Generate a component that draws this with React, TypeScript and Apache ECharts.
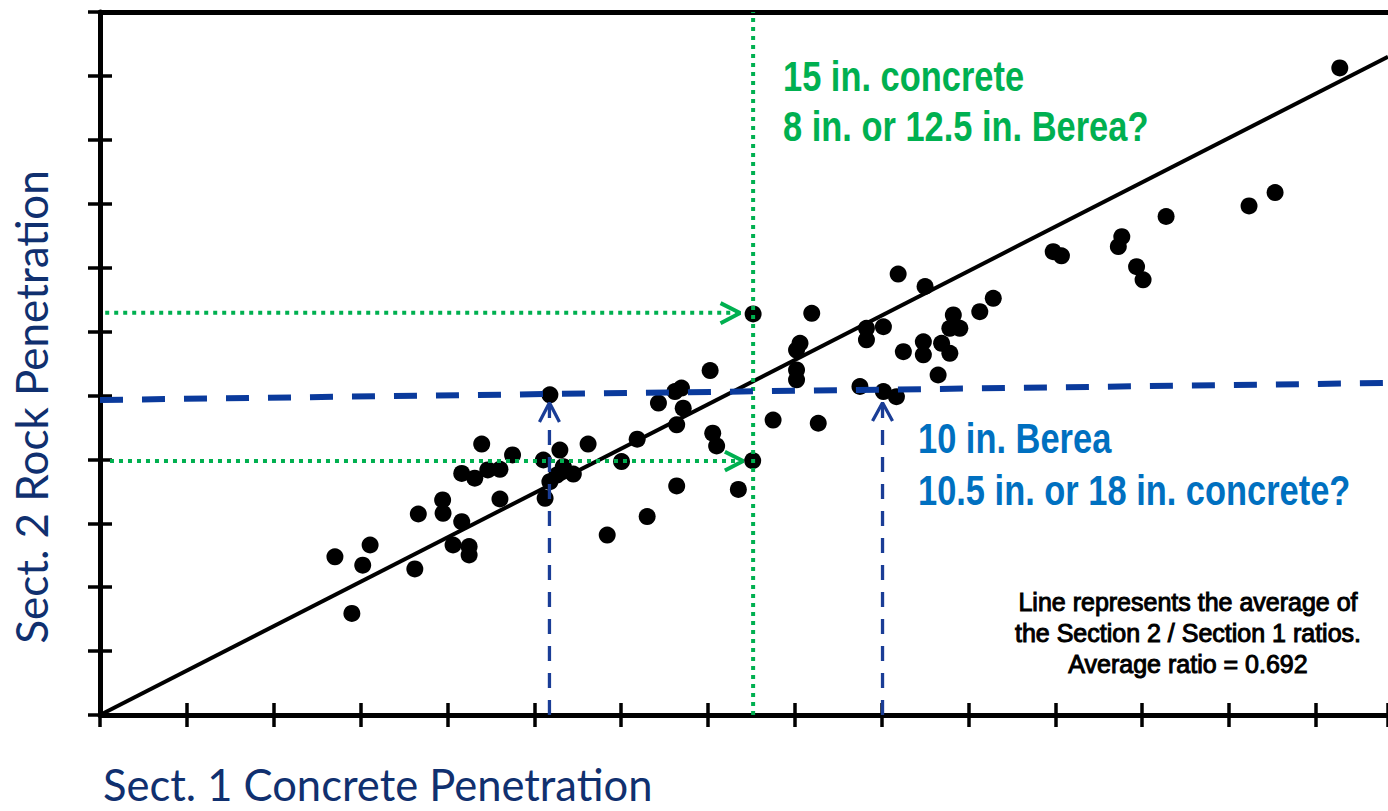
import React, { useEffect, useRef } from "react";
import * as echarts from "echarts";

// Axis extents (inches)
const X_MAX = 29.66;
const Y_MAX = 22;
const TICK_STEP = 2;

// Sect. 1 concrete penetration (in.)
const sect1Concrete = [
  5.41, 6.05, 6.22, 5.8, 7.25, 7.33, 7.89, 7.9, 8.13, 8.33,
  8.5, 8.5, 8.33, 8.63, 8.79, 8.93, 9.21, 9.21, 9.5, 10.21,
  10.25, 10.36, 10.36, 10.59, 10.67, 10.9, 10.52, 11.24, 11.68, 12.01,
  12.37, 12.6, 12.86, 13.24, 13.39, 13.43, 13.28, 13.28, 14.05, 14.11,
  14.2, 14.7, 15.03, 15.04, 15.5, 16.54, 16.39, 16.12, 16.04, 16.04,
  16.04, 17.5, 17.65, 17.65, 18.04, 18.04, 18.34, 18.38, 18.5, 19.0,
  18.96, 18.96, 19.38, 19.3, 19.57, 19.65, 19.8, 19.57, 20.26, 20.57,
  21.95, 22.14, 23.53, 23.45, 23.87, 24.02, 24.55, 26.46, 27.06, 28.55,
];

// Sect. 2 rock penetration (in.)
const sect2Rock = [
  4.95, 4.69, 5.32, 3.18, 4.57, 6.29, 6.73, 6.31, 5.32, 6.05,
  5.27, 5.01, 7.56, 7.41, 8.48, 7.67, 7.69, 6.76, 8.14, 7.98,
  6.78, 7.3, 10.02, 8.29, 7.77, 7.54, 7.51, 8.48, 5.63, 7.93,
  8.63, 6.21, 9.76, 10.12, 10.23, 9.6, 9.08, 7.17, 10.78, 8.82,
  8.42, 7.06, 7.96, 12.55, 9.23, 9.13, 12.57, 11.63, 11.42, 10.8,
  10.49, 10.28, 12.1, 11.74, 12.15, 10.12, 9.96, 13.8, 11.37, 13.41,
  11.68, 11.27, 11.63, 10.64, 12.1, 12.52, 12.1, 11.32, 12.62, 13.04,
  14.5, 14.37, 14.97, 14.66, 14.03, 13.62, 15.6, 15.93, 16.35, 20.25,
];

// Average-ratio line (ratio 0.692)
const fitLine = [[0, 0], [29.66, 20.6]];

// Blue annotation (10 in. Berea)
const blueHorizontal = [[0, 9.86], [29.66, 10.39]];
const blueVertLeft = [[10.35, 0], [10.35, 9.75]];
const blueVertRight = [[18.02, 0], [18.02, 9.75]];
const blueArrowLeft = [[10.12, 9.17], [10.35, 9.77], [10.58, 9.17]];
const blueArrowRight = [[17.79, 9.2], [18.02, 9.77], [18.25, 9.2]];

// Green annotation (15 in. concrete)
const greenVertical = [[15.04, 0], [15.04, 22]];
const greenHorizTop = [[0.12, 12.59], [14.7, 12.59]];
const greenHorizBottom = [[0.23, 7.95], [14.78, 7.95]];
const greenArrowTop = [[14.29, 12.89], [14.74, 12.58], [14.29, 12.26]];
const greenArrowBottom = [[14.39, 8.24], [14.81, 7.95], [14.39, 7.65]];

const GREEN = "#00b050";
const BLUE_DARK = "#0a3a9c";
const BLUE_MID = "#1a3d96";
const BLUE_TEXT = "#0070c0";
const NAVY = "#10306f";

const annoFont = "'Liberation Sans', Arial, sans-serif";
const NARROW = 0.82;

function lineSeries(data: number[][], color: string, width: number, type: any) {
  return {
    type: "line",
    data,
    symbol: "none",
    silent: true,
    z: 5,
    lineStyle: { color, width, type, cap: "butt" },
  };
}

function annoText(text: string, x: number, y: number, fill: string) {
  return {
    type: "text",
    x,
    y,
    scaleX: NARROW,
    style: {
      text,
      align: "left",
      verticalAlign: "middle",
      fontSize: 42,
      fontWeight: "bold",
      fontFamily: annoFont,
      fill,
    },
  };
}

function noteText(text: string, y: number) {
  return {
    type: "text",
    x: 1188,
    y,
    style: {
      text,
      align: "center",
      verticalAlign: "middle",
      fontSize: 25,
      fontFamily: "'Liberation Sans', Arial, sans-serif",
      fill: "#000",
      stroke: "#000",
      lineWidth: 1,
    },
  };
}

export default function App() {
  const ref = useRef<HTMLDivElement>(null);
  useEffect(() => {
    const chart = echarts.init(ref.current!, null, { renderer: "svg" });
    const gridRect = { left: 100, right: 0, top: 12, bottom: 96 };
    const baseAxis = {
      type: "value",
      min: 0,
      interval: TICK_STEP,
      splitLine: { show: false },
      axisLabel: { show: false },
    };
    const tickStyle = { color: "#000", width: 3.5 };
    const points = sect1Concrete.map((x, i) => [x, sect2Rock[i]]);
    chart.setOption({
      animation: false,
      backgroundColor: "#fff",
      grid: [gridRect, gridRect],
      xAxis: [
        {
          ...baseAxis,
          gridIndex: 0,
          max: X_MAX,
          position: "bottom",
          axisLine: { show: true, onZero: false, lineStyle: { color: "#000", width: 5 } },
          axisTick: { show: true, length: 12, lineStyle: tickStyle },
        },
        {
          ...baseAxis,
          gridIndex: 0,
          max: X_MAX,
          position: "top",
          axisLine: { show: true, onZero: false, lineStyle: { color: "#000", width: 5 } },
          axisTick: { show: false },
        },
        {
          ...baseAxis,
          gridIndex: 1,
          max: X_MAX,
          position: "bottom",
          axisLine: { show: false },
          axisTick: { show: true, inside: true, length: 12, lineStyle: tickStyle },
        },
      ],
      yAxis: [
        {
          ...baseAxis,
          gridIndex: 0,
          max: Y_MAX,
          position: "left",
          axisLine: { show: true, onZero: false, lineStyle: { color: "#000", width: 5 } },
          axisTick: { show: true, length: 12, lineStyle: tickStyle },
        },
        {
          ...baseAxis,
          gridIndex: 1,
          max: Y_MAX,
          position: "left",
          axisLine: { show: false },
          axisTick: { show: true, inside: true, length: 12, lineStyle: tickStyle },
        },
      ],
      series: [
        {
          type: "line",
          data: fitLine,
          symbol: "none",
          silent: true,
          z: 2,
          lineStyle: { color: "#000", width: 4 },
        },
        {
          type: "scatter",
          data: points,
          symbol: "circle",
          symbolSize: 17,
          silent: true,
          z: 3,
          itemStyle: { color: "#000", opacity: 1 },
        },
        lineSeries(greenVertical, GREEN, 4, [4, 5]),
        lineSeries(greenHorizTop, GREEN, 4, [4, 5]),
        lineSeries(greenHorizBottom, GREEN, 4, [4, 5]),
        lineSeries(greenArrowTop, GREEN, 4, "solid"),
        lineSeries(greenArrowBottom, GREEN, 4, "solid"),
        lineSeries(blueHorizontal, BLUE_DARK, 6, [23, 19]),
        lineSeries(blueVertLeft, BLUE_MID, 3.3, [15, 12]),
        lineSeries(blueVertRight, BLUE_MID, 3.3, [15, 12]),
        lineSeries(blueArrowLeft, BLUE_MID, 3.3, "solid"),
        lineSeries(blueArrowRight, BLUE_MID, 3.3, "solid"),
      ],
      graphic: [
        {
          type: "text",
          x: 31,
          y: 407,
          rotation: Math.PI / 2,
          style: {
            text: "Sect. 2 Rock Penetration",
            align: "center",
            verticalAlign: "middle",
            fontSize: 44,
            fontFamily: "Lato, 'Open Sans', sans-serif",
            fill: NAVY,
          },
        },
        {
          type: "text",
          x: 103,
          y: 784,
          style: {
            text: "Sect. 1 Concrete Penetration",
            align: "left",
            verticalAlign: "middle",
            fontSize: 43.5,
            fontFamily: "Lato, 'Open Sans', sans-serif",
            fill: NAVY,
          },
        },
        annoText("15 in. concrete", 783, 76, GREEN),
        annoText("8 in. or 12.5 in. Berea?", 783, 126, GREEN),
        annoText("10 in. Berea", 918, 438, BLUE_TEXT),
        annoText("10.5 in. or 18 in. concrete?", 918, 490, BLUE_TEXT),
        noteText("Line represents the average of", 602),
        noteText("the Section 2 / Section 1 ratios.", 633),
        noteText("Average ratio = 0.692", 664),
      ],
    });
    return () => chart.dispose();
  }, []);
  return (
    <div
      ref={ref}
      style={{ position: "fixed", left: 0, top: 0, width: 1388, height: 811, background: "#fff" }}
    />
  );
}
